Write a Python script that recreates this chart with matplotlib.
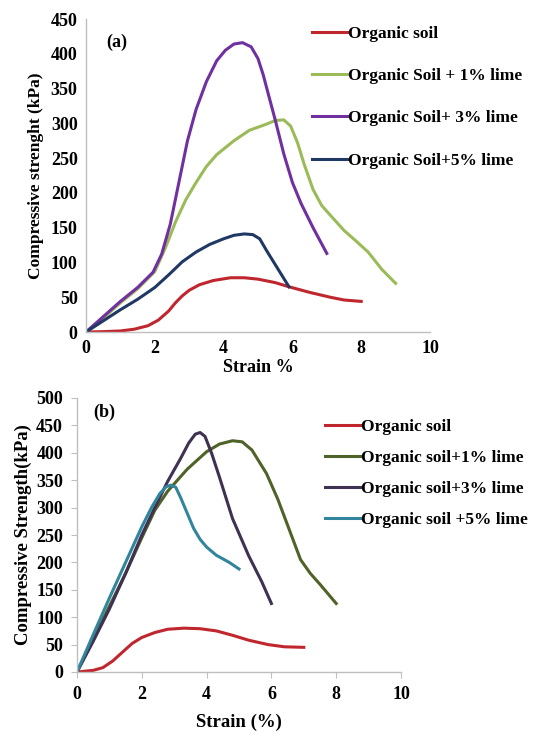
import matplotlib.pyplot as plt

plt.rcParams['font.family'] = ['Liberation Serif', 'DejaVu Serif']
plt.rcParams['font.weight'] = 'bold'

# ---- panel (a) data ----
a_labels = ['Organic soil', 'Organic Soil + 1% lime', 'Organic Soil+ 3% lime', 'Organic Soil+5% lime']
a_colors = ['#C0262D', '#9BBB59', '#7030A0', '#1F3864']

a_red_x = [0, 0.5, 1, 1.4, 1.8, 2.1, 2.4, 2.6, 2.8, 3.0, 3.3, 3.7, 4.2, 4.6, 5.0, 5.5, 5.9, 6.5, 7.1, 7.5, 8]
a_red_y = [0, 0.5, 1.5, 4, 9, 17, 30, 42, 52, 60, 68, 74, 78, 78, 76, 71, 65, 57, 50, 46, 44]

a_green_x = [0, 0.5, 1, 1.5, 2.0, 2.3, 2.6, 2.9, 3.2, 3.5, 3.8, 4.3, 4.75, 5.2, 5.5, 5.75, 5.95, 6.15, 6.35, 6.6, 6.85, 7.1, 7.5, 7.8, 8.2, 8.6, 9]
a_green_y = [0, 20, 42, 62, 87, 120, 158, 190, 215, 238, 255, 275, 290, 298, 304, 305, 296, 272, 240, 205, 182, 168, 146, 133, 115, 90, 70]

a_purple_x = [0, 0.5, 1, 1.5, 1.95, 2.2, 2.45, 2.7, 2.95, 3.2, 3.5, 3.8, 4.05, 4.3, 4.55, 4.8, 5.0, 5.15, 5.3, 5.5, 5.75, 6.0, 6.25, 6.6, 7.0]
a_purple_y = [0, 22, 44, 64, 86, 112, 155, 215, 275, 320, 360, 390, 405, 414, 416, 410, 393, 370, 342, 305, 256, 215, 185, 150, 113]

a_blue_x = [0, 0.5, 1, 1.5, 2.0, 2.4, 2.8, 3.2, 3.6, 4.0, 4.3, 4.6, 4.85, 5.05, 5.25, 5.6, 5.9]
a_blue_y = [0, 16, 32, 47, 64, 82, 101, 115, 126, 134, 139, 141, 140, 134, 117, 89, 65]

# ---- panel (b) data ----
b_labels = ['Organic soil', 'Organic soil+1% lime', 'Organic soil+3% lime', 'Organic soil +5% lime']
b_colors = ['#C0262D', '#4F6228', '#3F3151', '#31859C']

b_red_x = [0, 0.5, 0.8, 1.1, 1.4, 1.7, 2.0, 2.4, 2.8, 3.3, 3.8, 4.3, 4.8, 5.3, 5.9, 6.4, 7.0]
b_red_y = [0, 3, 8, 20, 36, 52, 63, 72, 78, 80, 79, 75, 67, 58, 50, 46, 45]

b_green_x = [0, 0.5, 1.0, 1.5, 2.0, 2.4, 2.8, 3.4, 4.0, 4.4, 4.8, 5.1, 5.4, 5.85, 6.2, 6.55, 6.9, 7.2, 7.5, 8.0]
b_green_y = [0, 60, 120, 180, 245, 295, 330, 370, 402, 416, 422, 420, 405, 362, 315, 260, 205, 180, 160, 125]

b_purple_x = [0, 0.5, 1.0, 1.5, 2.0, 2.4, 2.8, 3.2, 3.45, 3.65, 3.8, 3.95, 4.15, 4.4, 4.8, 5.3, 5.7, 6.0]
b_purple_y = [0, 56, 115, 180, 250, 300, 348, 390, 418, 434, 437, 430, 400, 355, 280, 212, 165, 125]

b_cyan_x = [0, 0.5, 1.0, 1.5, 2.0, 2.3, 2.55, 2.75, 2.9, 3.05, 3.2, 3.4, 3.6, 3.8, 4.0, 4.3, 4.7, 5.0]
b_cyan_y = [0, 68, 135, 200, 265, 300, 325, 338, 341, 337, 318, 290, 262, 242, 228, 213, 200, 188]

fig = plt.figure(figsize=(5.36, 7.31), dpi=100)

def style_axes(ax, xlim, ylim, yticks):
    ax.set_xlim(*xlim)
    ax.set_ylim(*ylim)
    ax.set_xticks(range(0, 11, 2))
    ax.set_yticks(yticks)
    for s in ['top', 'right']:
        ax.spines[s].set_visible(False)
    for s in ['left', 'bottom']:
        ax.spines[s].set_color('#BFBFBF')
        ax.spines[s].set_linewidth(1.0)
    ax.tick_params(labelsize=13, colors='black', length=0, pad=6)
    for lab in ax.get_xticklabels() + ax.get_yticklabels():
        lab.set_fontweight('bold')

# ---- (a) ----
ax1 = fig.add_axes([86 / 536, 1 - 332 / 731, 344 / 536, 313 / 731])
ax1.plot(a_red_x, a_red_y, color=a_colors[0], lw=2.2, label=a_labels[0])
ax1.plot(a_green_x, a_green_y, color=a_colors[1], lw=2.2, label=a_labels[1])
ax1.plot(a_purple_x, a_purple_y, color=a_colors[2], lw=2.2, label=a_labels[2])
ax1.plot(a_blue_x, a_blue_y, color=a_colors[3], lw=2.2, label=a_labels[3])
style_axes(ax1, (0, 10), (0, 450), range(0, 451, 50))
ax1.set_ylabel('Compressive strenght (kPa)', fontsize=12.5, fontweight='bold', labelpad=5)
ax1.set_xlabel('Strain %', fontsize=13, fontweight='bold', labelpad=1)
ax1.text(0.06, 0.91, '(a)', transform=ax1.transAxes, fontsize=13, fontweight='bold')
ax1.legend(loc='upper left', bbox_to_anchor=(305 / 536, 1 - 19 / 731), bbox_transform=fig.transFigure,
           frameon=False, handlelength=2.0, handletextpad=0.1,
           labelspacing=1.5, borderaxespad=0, prop={'weight': 'bold', 'size': 12.5})

# ---- (b) ----
ax2 = fig.add_axes([77 / 536, 1 - 672 / 731, 324 / 536, 274 / 731])
ax2.plot(b_red_x, b_red_y, color=b_colors[0], lw=2.2, label=b_labels[0])
ax2.plot(b_green_x, b_green_y, color=b_colors[1], lw=2.2, label=b_labels[1])
ax2.plot(b_purple_x, b_purple_y, color=b_colors[2], lw=2.2, label=b_labels[2])
ax2.plot(b_cyan_x, b_cyan_y, color=b_colors[3], lw=2.2, label=b_labels[3])
style_axes(ax2, (0, 10), (0, 500), range(0, 501, 50))
ax2.tick_params(length=4, direction='out', color='#BFBFBF')
ax2.set_ylabel('Compressive Strength(kPa)', fontsize=13.5, fontweight='bold', labelpad=3)
ax2.set_xlabel('Strain (%)', fontsize=13.5, fontweight='bold', labelpad=8)
ax2.text(0.05, 0.93, '(b)', transform=ax2.transAxes, fontsize=13, fontweight='bold')
ax2.legend(loc='upper left', bbox_to_anchor=(318 / 536, 1 - 412 / 731), bbox_transform=fig.transFigure,
           frameon=False, handlelength=2.0, handletextpad=0.1,
           labelspacing=0.85, borderaxespad=0, prop={'weight': 'bold', 'size': 12.5})

fig.savefig('out.png', dpi=100)
